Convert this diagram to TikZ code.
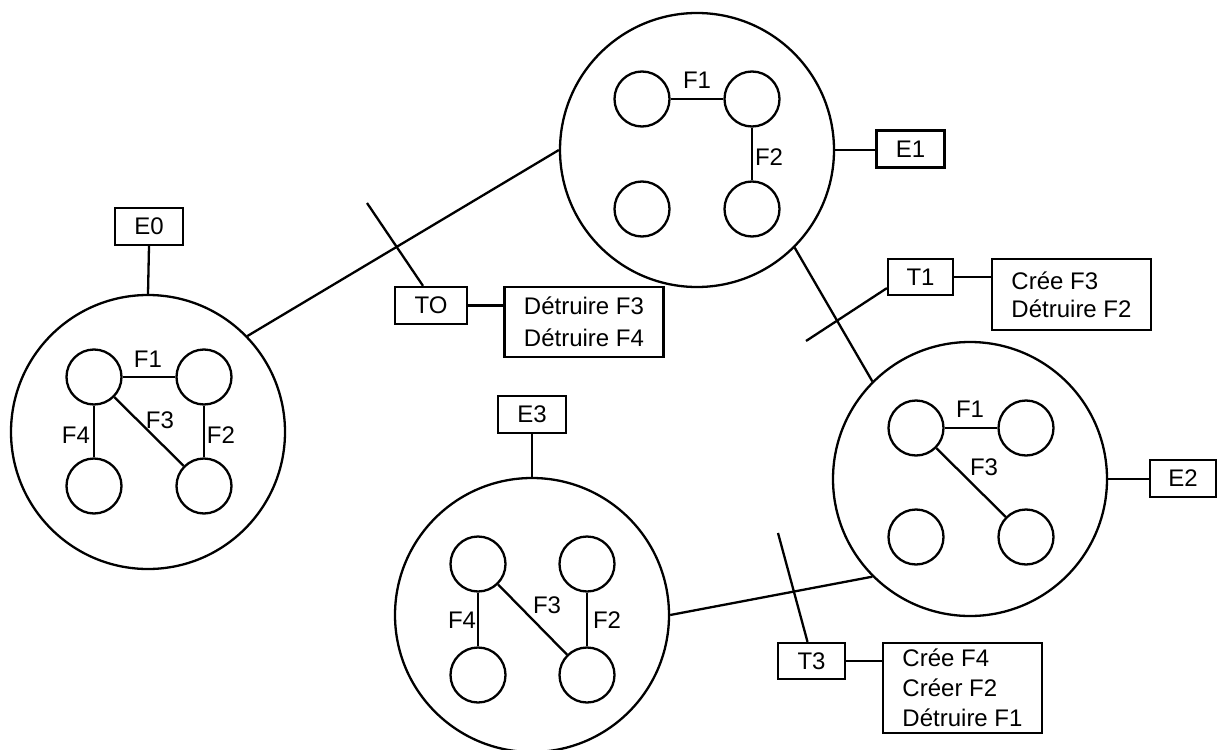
\documentclass[tikz,border=0pt]{standalone}
\usepackage{fontspec}
\setmainfont{Liberation Sans}
\begin{document}
\begin{tikzpicture}[x=1pt,y=-1pt,line width=2.3pt,
  every node/.style={font=\fontsize{24}{30}\selectfont},
  big/.style={circle,draw,minimum size=274pt,inner sep=0pt},
  sm/.style={circle,draw,minimum size=55pt,inner sep=0pt},
  lab/.style={draw,minimum width=68pt,minimum height=37pt,inner sep=0pt},
  act/.style={draw,align=left,minimum width=159pt,inner sep=0pt},
  txt/.style={inner sep=0pt}]
\fill[white] (0,0) rectangle (1217,749);
\useasboundingbox (0,0) rectangle (1217,749);

% ---------- E0 ----------
\node[big] (C0) at (148,432) {};
\node[sm] (a0) at (94,377) {};
\node[sm] (b0) at (204,377) {};
\node[sm] (c0) at (94,486) {};
\node[sm] (d0) at (204,486) {};
\draw (a0) -- (b0);
\draw (b0) -- (d0);
\draw (a0) -- (c0);
\draw (a0) -- (d0);
\node[txt] (f10) at (148,359) {F1};
\node[txt] (f30) at (160,420) {F3};
\node[txt] (f40) at (76,435) {F4};
\node[txt] (f20) at (221,435) {F2};
\node[lab] (E0) at (149,226.5) {E0};
\draw (E0.south) -- (C0.north);

% ---------- E1 ----------
\node[big] (C1) at (697,150) {};
\node[sm] (a1) at (642,99) {};
\node[sm] (b1) at (752,99) {};
\node[sm] (c1) at (642,209) {};
\node[sm] (d1) at (752,209) {};
\draw (a1) -- (b1);
\draw (b1) -- (d1);
\node[txt] (f11) at (697,80) {F1};
\node[txt] (f21) at (769,157) {F2};
\node[lab] (E1) at (910.5,149) {E1};
\draw (C1.east) -- (C1.east -| E1.west);

% ---------- E2 ----------
\node[big] (C2) at (970,479) {};
\node[sm] (a2) at (916,428) {};
\node[sm] (b2) at (1026,428) {};
\node[sm] (c2) at (916,537) {};
\node[sm] (d2) at (1026,537) {};
\draw (a2) -- (b2);
\draw (a2) -- (d2);
\node[txt] (f12) at (970,409) {F1};
\node[txt] (f32) at (984,467) {F3};
\node[lab,minimum width=66pt] (E2) at (1183,478.5) {E2};
\draw (C2.east) -- (C2.east -| E2.west);

% ---------- E3 ----------
\node[big] (C3) at (532,615) {};
\node[sm] (a3) at (478,564) {};
\node[sm] (b3) at (587,564) {};
\node[sm] (c3) at (478,675) {};
\node[sm] (d3) at (587,675) {};
\draw (a3) -- (c3);
\draw (a3) -- (d3);
\draw (b3) -- (d3);
\node[txt] (f43) at (462,620) {F4};
\node[txt] (f33) at (547,605) {F3};
\node[txt] (f23) at (607,620) {F2};
\node[lab] (E3) at (532,414.5) {E3};
\draw (E3.south) -- (C3.north);

% ---------- transitions between states ----------
\draw (C0.44) -- (C1.west);
\draw (C1.-45) -- (C2.135);
\draw (C3.east) -- (C2.225);

% ---------- T0 ----------
\node[lab,minimum width=72pt] (T0) at (431,305.5) {TO};
\node[act,minimum height=70pt,font=\fontsize{24}{32}\selectfont] (A0) at (584,322) {Détruire F3\\Détruire F4};
\coordinate (t0) at (367,203);
\draw ([xshift=-8pt]T0.north) -- (t0);
\draw (T0.east) -- (T0.east -| A0.west);

% ---------- T1 ----------
\node[lab,minimum width=65pt,minimum height=36pt] (T1) at (920.5,277) {T1};
\node[act,minimum height=71pt,font=\fontsize{24}{28}\selectfont] (A1) at (1071.5,294.5) {Crée F3\\Détruire F2};
\coordinate (t1) at (806,341);
\draw ([yshift=8pt]T1.south west) -- (t1);
\draw (T1.east) -- (T1.east -| A1.west);

% ---------- T3 ----------
\node[lab,minimum width=67pt,minimum height=36pt] (T3) at (811.5,661) {T3};
\node[act,minimum height=90pt] (A3) at (962.5,688) {Crée F4\\Créer F2\\Détruire F1};
\coordinate (t3) at (778,533);
\draw ([xshift=-4pt]T3.north) -- (t3);
\draw (T3.east) -- (T3.east -| A3.west);
\end{tikzpicture}
\end{document}
